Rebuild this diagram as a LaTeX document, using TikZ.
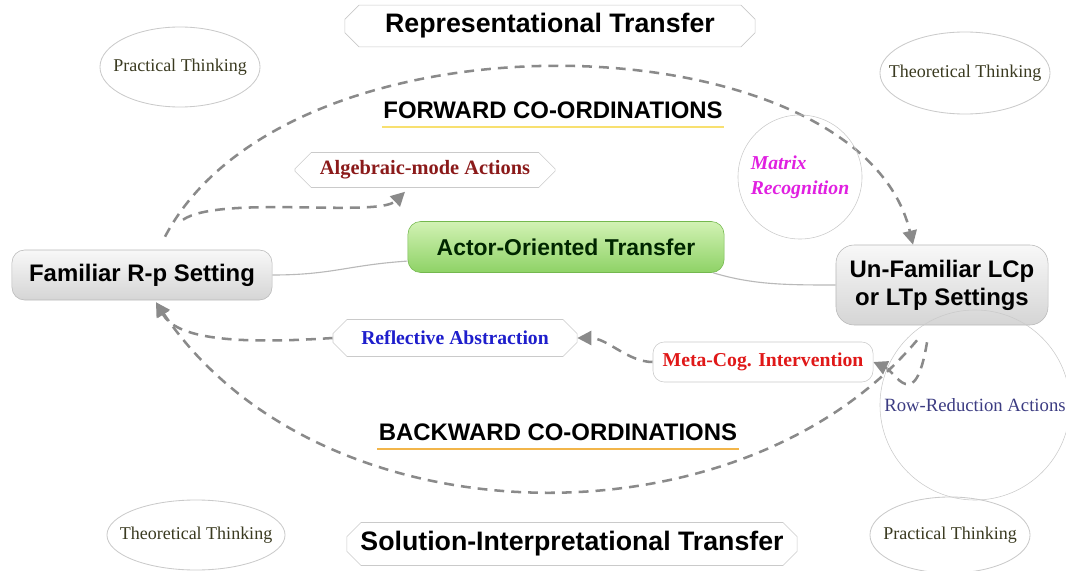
\documentclass[tikz,border=0pt]{standalone}
\usepackage{fontspec}
\setmainfont{Liberation Serif}
\setsansfont{Liberation Sans}
\usetikzlibrary{arrows.meta,shapes.geometric,shapes.misc,backgrounds}

\definecolor{dashgray}{HTML}{8A8A8A}
\definecolor{rimgray}{HTML}{CACACA}
\definecolor{boxtop}{HTML}{F8F8F8}
\definecolor{boxbot}{HTML}{D5D5D5}
\definecolor{actortop}{HTML}{D2F2B4}
\definecolor{actorbot}{HTML}{8ED266}
\definecolor{actorrim}{HTML}{74B84E}
\definecolor{thinktext}{HTML}{3A3A20}
\definecolor{algred}{HTML}{8B1A1A}
\definecolor{reflblue}{HTML}{1E1ECC}
\definecolor{metared}{HTML}{E01818}
\definecolor{matrixpink}{HTML}{E020E0}
\definecolor{rowblue}{HTML}{3C3C82}
\definecolor{fwdline}{HTML}{F8E070}
\definecolor{bwdline}{HTML}{F2B54A}

\tikzset{
	setting/.style={draw=gray!55, rounded corners=9pt, top color=boxtop, bottom color=boxbot,
		font=\sffamily\bfseries\fontsize{17}{20}\selectfont, align=center, inner sep=0pt},
	transfer/.style={chamfered rectangle, chamfered rectangle xsep=4pt, chamfered rectangle ysep=6pt,
		draw=rimgray, fill=white, font=\sffamily\bfseries\fontsize{19}{22}\selectfont, inner sep=0pt},
	action/.style={chamfered rectangle, chamfered rectangle xsep=13pt, chamfered rectangle ysep=5pt,
		draw=rimgray, fill=white, font=\bfseries\fontsize{14}{17}\selectfont, inner sep=0pt},
	thinking/.style={text=thinktext, font=\fontsize{12.8}{15}\selectfont, inner sep=0pt},
	rim/.style={draw=rimgray, line width=0.6pt},
	bubble/.style={circle, draw=rimgray, inner sep=0pt},
	headtext/.style={font=\sffamily\bfseries\fontsize{17}{20}\selectfont, inner xsep=1pt, inner ysep=6pt},
	coordarrow/.style={draw=dashgray, line width=1.8pt, dash pattern=on 7pt off 5pt,
		-{Triangle[length=10pt,width=10pt]}},
	plainlink/.style={draw=gray!55, line width=0.8pt},
}

\begin{document}
\begin{tikzpicture}[x=0.025cm, y=-0.025cm]
	\clip (0,0) rectangle (1066,571);
	% Transfers
	\node[transfer, minimum width=10.25cm, minimum height=0.925cm] (rep) at (550,26) {Representational Transfer};
	\node[transfer, minimum width=11.25cm, minimum height=1.075cm] (sol) at (572,544) {Solution-Interpretational Transfer};
	% Settings
	\node[setting, minimum width=6.5cm, minimum height=1.25cm] (fam) at (142,275) {Familiar R-p Setting};
	\node[setting, rounded corners=13pt, minimum width=5.3cm, minimum height=2cm] (unf) at (942,285) {Un-Familiar LCp\\or LTp Settings};
	\node[setting, draw=actorrim, top color=actortop, bottom color=actorbot, text=black!85!green,
		minimum width=7.9cm, minimum height=1.275cm, font=\sffamily\bfseries\fontsize{16.3}{19}\selectfont] (actor) at (566,247) {Actor-Oriented Transfer};
	% Actions
	\node[action, text=algred, minimum width=6.5cm, minimum height=0.875cm, font=\bfseries\fontsize{14.5}{17}\selectfont] (alg) at (425,170) {Algebraic-mode Actions};
	\node[action, text=reflblue, minimum width=6.1cm, minimum height=0.925cm] (refl) at (455,338) {Reflective Abstraction};
	\node[rectangle, rounded corners=8pt, draw=rimgray, fill=white, text=metared, inner sep=0pt,
		minimum width=5.5cm, minimum height=1cm, font=\bfseries\fontsize{14}{17}\selectfont] (meta) at (763,362) {Meta-Cog. Intervention};
	% Bubbles
	\node[bubble, minimum size=3.1cm, text=matrixpink, align=left,
		font=\bfseries\itshape\fontsize{14}{17.7}\selectfont] (matrix) at (800,177) {Matrix\\Recognition};
	\node[bubble, minimum size=4.75cm, text=rowblue, font=\fontsize{13.3}{16}\selectfont] (row) at (975,405) {Row-Reduction Actions};
	% Thinking
	\node[thinking] (pracA) at (180,67) {Practical Thinking};
	\draw[rim] (pracA.center) ellipse (2cm and 1cm);
	\node[thinking] (theoA) at (965,73) {Theoretical Thinking};
	\draw[rim] (theoA.center) ellipse (2.125cm and 1.025cm);
	\node[thinking] (theoB) at (196,535) {Theoretical Thinking};
	\draw[rim] (theoB.center) ellipse (2.225cm and 0.875cm);
	\node[thinking] (pracB) at (950,535) {Practical Thinking};
	\draw[rim] (pracB.center) ellipse (2cm and 0.95cm);
	% Co-ordination labels
	\node[headtext] (fwd) at (553,110) {FORWARD CO-ORDINATIONS};
	\draw[fwdline, line width=1.5pt] (fwd.south west) -- (fwd.south east);
	\node[headtext] (bwd) at (558,432) {BACKWARD CO-ORDINATIONS};
	\draw[bwdline, line width=1.5pt] (bwd.south west) -- (bwd.south east);
	\begin{pgfonlayer}{background}
		% Plain links
		\draw[plainlink] (fam.east) .. controls +(60,0) and +(-60,4) .. ([yshift=-10pt]actor.west);
		\draw[plainlink] ([xshift=-8pt]actor.south east) .. controls +(40,12) and +(-50,0) .. (unf.west);
		% Forward
		\draw[coordarrow] ([shift={(23,-13)}]fam.north) .. controls +(125,-237) and +(-53,-225) .. ([shift={(-29,0)}]unf.north);
		\draw[coordarrow] ([shift={(41,-30)}]fam.north) .. controls +(37,-25) and +(-27,26) .. ([shift={(-20,4)}]alg.south);
		% Backward
		\draw[coordarrow] ([shift={(-25,15)}]unf.south) .. controls +(-177,210) and +(164,243) .. ([shift={(14,2)}]fam.south);
		\draw[coordarrow] ([shift={(-15,17)}]unf.south) .. controls +(-12,73) and +(22,10) .. (meta.east);
		\draw[coordarrow] (meta.west) .. controls +(-25,0) and +(30,0) .. (refl.east);
		\draw[coordarrow] (refl.west) .. controls +(-105,7) and +(20,35) .. ([shift={(14,2)}]fam.south);
	\end{pgfonlayer}
\end{tikzpicture}
\end{document}
